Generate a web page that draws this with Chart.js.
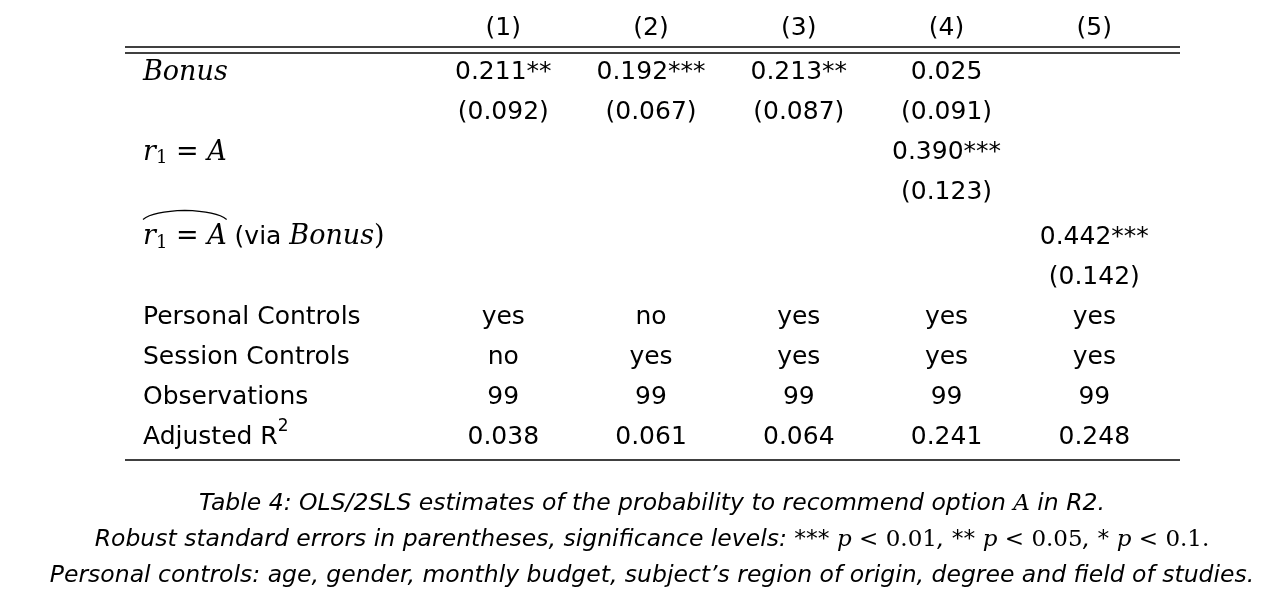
<!DOCTYPE html>
<html><head><meta charset="utf-8">
<script src="https://cdn.jsdelivr.net/npm/chart.js@4/dist/chart.umd.min.js"></script>
<style>html,body{margin:0;padding:0;background:#fff}#w{width:1282px;height:603px}</style>
</head><body><div id="w"><canvas id="c"></canvas></div>
<script>
const columns = ['(1)','(2)','(3)','(4)','(5)'];
const coefBonus = ['0.211**','0.192***','0.213**','0.025',''];
const seBonus = ['(0.092)','(0.067)','(0.087)','(0.091)',''];
const coefR1 = ['','','','0.390***',''];
const seR1 = ['','','','(0.123)',''];
const coefHat = ['','','','','0.442***'];
const seHat = ['','','','','(0.142)'];
const personal = ['yes','no','yes','yes','yes'];
const session = ['no','yes','yes','yes','yes'];
const observations = ['99','99','99','99','99'];
const adjR2 = ['0.038','0.061','0.064','0.241','0.248'];
const rowLabels = ['Bonus','','r1=A','','hat','','Personal Controls','Session Controls','Observations','Adjusted R2'];
const rowValues = [coefBonus, seBonus, coefR1, seR1, coefHat, seHat, personal, session, observations, adjR2];

const SANS = '25px "DejaVu Sans"';
const MI = 'italic 27px "DejaVu Serif"';
const MR = '27px "DejaVu Serif"';
const SUB = '18px "DejaVu Serif"';
const CI = 'italic 23.5px "DejaVu Sans"';
const CMI = 'italic 23px "DejaVu Serif"';
const CMR = '23px "DejaVu Serif"';

function runs(ctx, list, x, y, align) {
  let w = 0;
  list.forEach(r => { ctx.font = r.f; w += ctx.measureText(r.t).width; });
  let cx = align === 'center' ? x - w / 2 : x;
  const pos = [];
  list.forEach(r => {
    ctx.font = r.f; ctx.textAlign = 'left'; ctx.textBaseline = 'middle';
    ctx.fillText(r.t, cx, y + (r.dy || 0));
    pos.push(cx);
    cx += ctx.measureText(r.t).width;
  });
  pos.push(cx);
  return pos;
}

const tablePlugin = {
  id: 'table',
  afterDraw(chart) {
    const ctx = chart.ctx, xs = chart.scales.x, ys = chart.scales.y, a = chart.chartArea;
    ctx.save();
    ctx.fillStyle = '#000'; ctx.strokeStyle = '#000'; ctx.lineWidth = 1.3;
    const line = y => { ctx.beginPath(); ctx.moveTo(a.left, y); ctx.lineTo(a.right, y); ctx.stroke(); };
    line(a.top); line(a.top + 6); line(a.bottom);
    columns.forEach((c, i) => runs(ctx, [{t: c, f: SANS}], xs.getPixelForValue(i + 1), ys.getPixelForValue(-0.1), 'center'));
    const lx = a.left + 18;
    rowLabels.forEach((lab, r) => {
      const y = ys.getPixelForValue(r + 1) + (r >= 4 ? 5 : 0);
      if (lab === 'Bonus') runs(ctx, [{t: 'Bonus', f: MI}], lx, y);
      else if (lab === 'r1=A') runs(ctx, [{t: 'r', f: MI}, {t: '1', f: SUB, dy: 6}, {t: ' = ', f: MR}, {t: 'A', f: MI}], lx, y);
      else if (lab === 'hat') {
        const p = runs(ctx, [{t: 'r', f: MI}, {t: '1', f: SUB, dy: 6}, {t: ' = ', f: MR}, {t: 'A', f: MI}, {t: ' (via ', f: SANS}, {t: 'Bonus', f: MI}, {t: ')', f: MR}], lx, y);
        const x0 = p[0], x1 = p[4], top = y - 20;
        ctx.beginPath(); ctx.lineWidth = 1.2;
        ctx.moveTo(x0, top + 2);
        ctx.quadraticCurveTo(x0 + 10, top - 6, (x0 + x1) / 2, top - 7);
        ctx.quadraticCurveTo(x1 - 10, top - 6, x1, top + 2);
        ctx.stroke();
      }
      else if (lab === 'Adjusted R2') runs(ctx, [{t: 'Adjusted R', f: SANS}, {t: '2', f: '17px "DejaVu Sans"', dy: -10}], lx, y);
      else if (lab) runs(ctx, [{t: lab, f: SANS}], lx, y);
      rowValues[r].forEach((v, i) => {
        if (v) runs(ctx, [{t: v, f: SANS}], xs.getPixelForValue(i + 1), y, 'center');
      });
    });
    const cx = 652;
    runs(ctx, [{t: 'Table 4: OLS/2SLS estimates of the probability to recommend option ', f: CI}, {t: 'A', f: CMI}, {t: ' in R2.', f: CI}], cx, 504, 'center');
    runs(ctx, [{t: 'Robust standard errors in parentheses, significance levels: *** ', f: CI}, {t: 'p', f: CMI}, {t: ' < 0.01', f: CMR}, {t: ', ** ', f: CI}, {t: 'p', f: CMI}, {t: ' < 0.05', f: CMR}, {t: ', * ', f: CI}, {t: 'p', f: CMI}, {t: ' < 0.1.', f: CMR}], cx, 540, 'center');
    runs(ctx, [{t: 'Personal controls: age, gender, monthly budget, subject\u2019s region of origin, degree and field of studies.', f: CI}], cx, 576, 'center');
    ctx.restore();
  }
};

new Chart(document.getElementById('c'), {
  type: 'scatter',
  data: { datasets: [{ data: [], pointRadius: 0 }] },
  options: {
    responsive: true, maintainAspectRatio: false, animation: false,
    layout: { padding: { left: 125, right: 102, top: 47, bottom: 143 } },
    plugins: { legend: { display: false }, tooltip: { enabled: false } },
    scales: {
      x: { type: 'linear', min: -1.56, max: 5.58, display: false },
      y: { type: 'linear', min: 0.356, max: 10.7, reverse: true, display: false }
    }
  },
  plugins: [tablePlugin]
});
</script></body></html>
